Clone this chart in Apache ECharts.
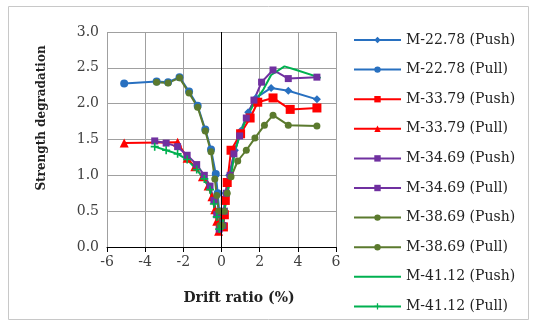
<!DOCTYPE html>
<html>
<head>
<meta charset="utf-8">
<script src="https://cdn.jsdelivr.net/npm/echarts@6/dist/echarts.min.js"></script>
<style>
  html, body { margin: 0; padding: 0; background: #fff; }
  #chart { width: 535px; height: 326px; }
</style>
</head>
<body>
<div id="chart"></div>
<script>
// 数据 (drift ratio %, strength degradation)
var xTicks = [-6, -4, -2, 0, 2, 4, 6];
var yTicks = [0, 0.5, 1, 1.5, 2, 2.5, 3];

var m2278Push = [[0.05,0.3],[0.12,0.5],[0.2,0.75],[0.4,1.0],[0.7,1.35],[1.0,1.62],[1.4,1.88],[1.8,2.08],[2.6,2.22],[3.5,2.18],[5.0,2.06]];
var m2278Pull = [[-5.1,2.28],[-3.4,2.31],[-2.8,2.3],[-2.2,2.37],[-1.7,2.17],[-1.25,1.97],[-0.85,1.64],[-0.55,1.36],[-0.3,1.02],[-0.2,0.75],[-0.12,0.5],[-0.05,0.3]];
var m3379Push = [[0.1,0.28],[0.15,0.45],[0.2,0.65],[0.3,0.9],[0.5,1.35],[1.0,1.58],[1.5,1.8],[1.9,2.02],[2.7,2.08],[3.6,1.92],[5.0,1.94]];
var m3379Pull = [[-5.1,1.45],[-2.3,1.46],[-1.8,1.24],[-1.4,1.12],[-1.0,0.98],[-0.7,0.85],[-0.5,0.7],[-0.35,0.52],[-0.25,0.36],[-0.15,0.22]];
var m3469Push = [[0.08,0.3],[0.15,0.5],[0.25,0.75],[0.45,1.0],[0.65,1.3],[0.95,1.55],[1.3,1.8],[1.7,2.05],[2.1,2.3],[2.7,2.47],[3.5,2.35],[5.0,2.37]];
var m3469Pull = [[-3.5,1.48],[-2.9,1.45],[-2.3,1.4],[-1.8,1.28],[-1.3,1.15],[-0.9,1.0],[-0.6,0.85],[-0.4,0.65],[-0.25,0.45],[-0.12,0.25]];
var m3869Push = [[0.05,0.3],[0.15,0.5],[0.3,0.75],[0.5,0.98],[0.85,1.2],[1.3,1.35],[1.75,1.52],[2.25,1.7],[2.7,1.84],[3.5,1.7],[5.0,1.69]];
var m3869Pull = [[-3.4,2.3],[-2.8,2.29],[-2.2,2.36],[-1.7,2.15],[-1.25,1.95],[-0.85,1.62],[-0.55,1.33],[-0.35,0.95],[-0.25,0.72],[-0.15,0.5],[-0.08,0.3]];
var m4112Push = [[0.05,0.25],[0.15,0.5],[0.3,0.75],[0.5,1.0],[0.7,1.33],[1.0,1.6],[1.4,1.85],[1.8,2.05],[2.2,2.2],[2.6,2.4],[3.3,2.52],[3.8,2.48],[5.2,2.36]];
var m4112Pull = [[-3.5,1.4],[-2.9,1.35],[-2.3,1.3],[-1.8,1.22],[-1.3,1.08],[-0.9,0.95],[-0.6,0.8],[-0.4,0.6],[-0.25,0.42],[-0.12,0.25]];

var names = ['M-22.78 (Push)','M-22.78 (Pull)','M-33.79 (Push)','M-33.79 (Pull)','M-34.69 (Push)','M-34.69 (Pull)','M-38.69 (Push)','M-38.69 (Pull)','M-41.12 (Push)','M-41.12 (Pull)'];
var datas = [m2278Push, m2278Pull, m3379Push, m3379Pull, m3469Push, m3469Pull, m3869Push, m3869Pull, m4112Push, m4112Pull];
var colors = ['#2870C0','#2870C0','#FF0000','#FF0000','#7030A0','#7030A0','#5B7A2E','#5B7A2E','#00B050','#00B050'];
var plus = 'path://M4,0H6V4H10V6H6V10H4V6H0V4H4Z';
var symbols = ['diamond','circle','rect','triangle','rect','rect','circle','circle','none',plus];
var sizes = [8,8,9,9,7,7,7,7,0,8];

var font = 'DejaVu Serif';
var myChart = echarts.init(document.getElementById('chart'));

var series = names.map(function (n, i) {
  var s = {
    name: n,
    type: 'line',
    data: datas[i],
    symbol: symbols[i],
    symbolSize: sizes[i],
    showSymbol: symbols[i] !== 'none',
    lineStyle: { color: colors[i], width: 2 },
    itemStyle: { color: colors[i] },
    animation: false
  };
  if (i === 0) {
    s.markLine = {
      silent: true, symbol: 'none', label: { show: false },
      lineStyle: { color: '#000', width: 1, type: 'solid' },
      data: [{ xAxis: 0 }]
    };
  }
  return s;
});

// legend: 41.12 Push is a plain line
var legendData = names.map(function (n, i) {
  if (symbols[i] === 'none') return { name: n, icon: 'path://M0,3H47V5H0Z', itemStyle: { color: colors[i] } };
  return n;
});

var option = {
  backgroundColor: '#fff',
  animation: false,
  grid: { left: 107, right: 199, top: 32, bottom: 79 },
  xAxis: {
    type: 'value', min: -6, max: 6, interval: 2,
    axisLine: { show: true, onZero: true, lineStyle: { color: '#000', width: 1 } },
    axisTick: { show: true, inside: false, length: 5, lineStyle: { color: '#000' } },
    axisLabel: { color: '#404040', fontFamily: font, fontSize: 14, margin: 8 },
    splitLine: { show: true, lineStyle: { color: '#A0A0A0', width: 1 } }
  },
  yAxis: {
    type: 'value', min: 0, max: 3, interval: 0.5,
    axisLine: { show: false },
    axisTick: { show: false },
    axisLabel: { color: '#404040', fontFamily: font, fontSize: 14, margin: 8,
      formatter: function (v) { return v.toFixed(1); } },
    splitLine: { show: true, lineStyle: { color: '#A0A0A0', width: 1 } }
  },
  legend: {
    orient: 'vertical', left: 353, top: 32.5, padding: 0,
    itemWidth: 47, itemHeight: 8, itemGap: 14.6,
    data: legendData,
    textStyle: { fontFamily: font, fontSize: 14, color: '#222', lineHeight: 15 }
  },
  graphic: [
    { type: 'rect', shape: { x: 8.5, y: 6.5, width: 520, height: 313 },
      style: { fill: 'none', stroke: '#C8C8C8', lineWidth: 1 }, z: -1 },
    { type: 'text', x: 239, y: 298,
      style: { text: 'Drift ratio (%)', font: 'bold 14px "DejaVu Serif"', fill: '#222',
        textAlign: 'center', textVerticalAlign: 'middle' } },
    { type: 'text', x: 42, y: 118, rotation: Math.PI / 2,
      style: { text: 'Strength degradation', font: 'bold 12px "DejaVu Serif"', fill: '#222',
        textAlign: 'center', textVerticalAlign: 'middle' } }
  ],
  series: series
};

myChart.setOption(option);
</script>
</body>
</html>
